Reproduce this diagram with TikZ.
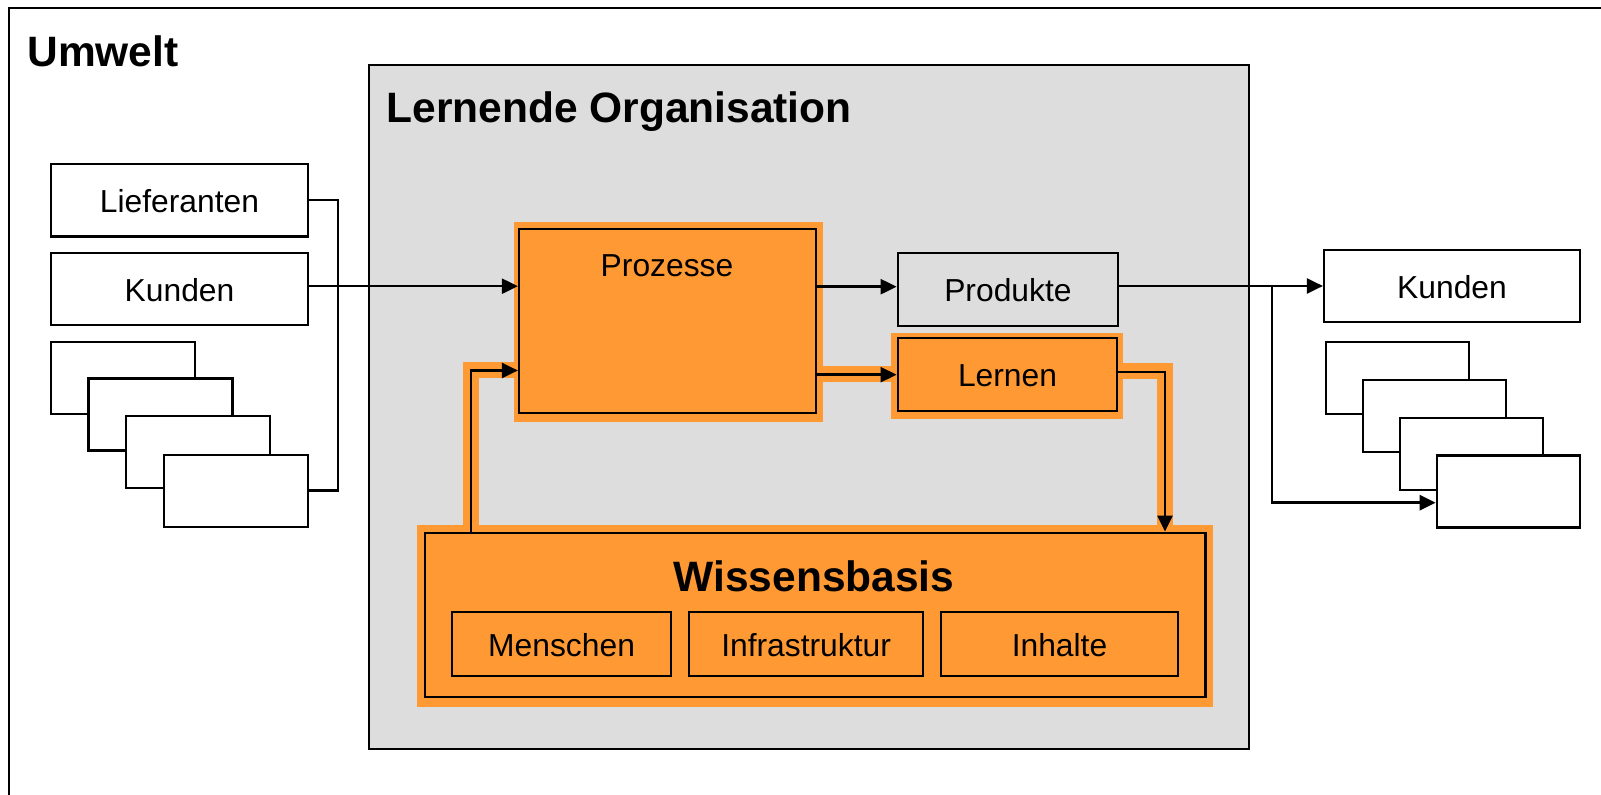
\documentclass[tikz,border=0pt]{standalone}
\usepackage{fontspec}
\setmainfont{Liberation Sans}
\usetikzlibrary{arrows.meta,calc}
\definecolor{org}{HTML}{FF9933}
\definecolor{lgray}{HTML}{DDDDDD}
\tikzset{
 bx/.style={draw, line width=1.1pt, fill=white, inner sep=0pt, text height=12.2pt, text depth=0pt, font=\fontsize{15.9pt}{18pt}\selectfont},
 obox/.style={bx, fill=org},
 gbox/.style={bx, fill=lgray},
 sbox/.style={bx, minimum width=72pt, minimum height=36pt},
 rbox/.style={bx, minimum width=71.5pt, minimum height=36pt},
 sub/.style={obox, minimum height=32.15pt},
 ln/.style={line width=1.2pt, line join=miter},
 arr/.style={ln, -{Triangle[length=8pt,width=7.5pt]}},
 band/.style={draw=org, line width=8pt, line join=miter},
 halo/.style={fill=org},
 ttl/.style={inner sep=0pt, anchor=base west, font=\bfseries\fontsize{21.25pt}{25pt}\selectfont},
 txt/.style={inner sep=0pt, anchor=base, font=\fontsize{15.9pt}{18pt}\selectfont},
}
\begin{document}
\begin{tikzpicture}[x=0.5pt,y=-0.5pt]
\useasboundingbox (0,0) rectangle (1601,795);
\clip (0,0) rectangle (1601,795);
\fill[white] (0,0) rectangle (1601,795);
\draw[line width=1.1pt] (9,8) rectangle (1640,840);
\node[ttl] (umwelt) at (27,66.5) {Umwelt};

% Lernende Organisation
\node[gbox, minimum width=440pt, minimum height=342pt] (lo) at (809,407) {};
\node[ttl] (lotitle) at (386,122.5) {Lernende Organisation};

% left environment boxes
\node[bx, minimum width=128.5pt, minimum height=36.25pt] (lief) at (179.5,200.3) {Lieferanten};
\node[bx, minimum width=128.5pt, minimum height=35.85pt] (kl) at (179.5,289.2) {Kunden};
\node[sbox] (l1) at (123,377.8) {};
\node[sbox] (l2) at (160.5,414.5) {};
\node[sbox] (l3) at (198,452.3) {};
\node[sbox] (l4) at (236,490.7) {};

% right environment boxes
\node[bx, minimum width=128pt, minimum height=36pt] (kr) at (1452,286) {Kunden};
\node[rbox] (r1) at (1397.7,377.9) {};
\node[rbox] (r2) at (1434.7,415.7) {};
\node[rbox] (r3) at (1471.7,453.7) {};
\node[rbox] (r4) at (1508.3,491.5) {};

% helper coordinates
\coordinate (fb) at (470.8,370.5);
\coordinate (lw) at (1165,372.3);
\coordinate (br) at (1272,502.7);
\coordinate (brk) at (338,200.3);

% orange halos and bands
\fill[halo] (514.3,221.7) rectangle (823.3,421.7);
\fill[halo] (891,333.3) rectangle (1123.3,419.3);
\fill[halo] (417.3,525) rectangle (1213.3,707.3);
\draw[band] (470.8,530) -- (470.8,369.7) -- (518,369.7);
\draw[band] (820,373.9) -- (894,373.9);
\draw[band] (1120,371.3) -- (1165,371.3) -- (1165,530);

% organisation boxes
\node[obox, minimum width=148.35pt, minimum height=92.15pt] (proz) at (667.35,321.15) {};
\node[txt] (proztxt) at (667,277) {Prozesse};
\node[gbox, minimum width=110.15pt, minimum height=36.35pt] (prod) at (1007.9,289.7) {Produkte};
\node[obox, minimum width=109.8pt, minimum height=36.35pt] (lern) at (1007.5,374.7) {Lernen};
\node[obox, minimum width=390.4pt, minimum height=82pt] (wb) at (815,614.7) {};
\node[inner sep=0pt, anchor=base, font=\bfseries\fontsize{21.25pt}{25pt}\selectfont] (wbtxt) at (814,591.5) {Wissensbasis};
\node[sub, minimum width=109.3pt] (mensch) at (561.6,643.85) {Menschen};
\node[sub, minimum width=116.9pt] (infra) at (806.1,643.85) {Infrastruktur};
\node[sub, minimum width=118.2pt] (inh) at (1059.5,643.85) {Inhalte};

% connectors
\draw[ln] (lief.east) -- (brk) |- (l4.east);
\coordinate (kin) at ([yshift=1.5pt]kl.east);
\draw[arr] (kin) -- (kin -| proz.west);
\coordinate (pa) at ([yshift=1.5pt]prod.west);
\draw[arr] (pa -| proz.east) -- (pa);
\draw[arr] (proz.east |- lern.west) -- (lern.west);
\draw[arr] ([yshift=1.2pt]lern.east) -| (lw |- wb.north);
\draw[arr] (fb |- wb.north) |- (fb -| proz.west);
\draw[arr] (kr.west -| prod.east) -- (kr.west);
\draw[arr] (br |- kr.west) |- (br -| r4.west);
\end{tikzpicture}
\end{document}
